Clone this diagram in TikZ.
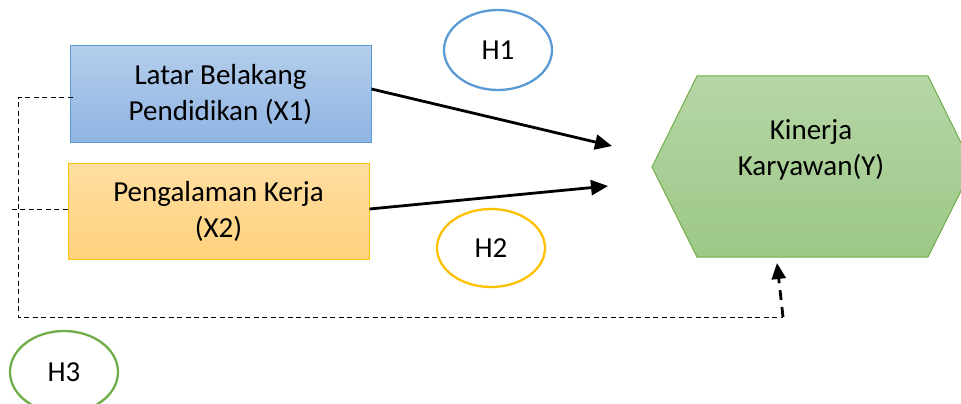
\documentclass[tikz,border=0pt]{standalone}
\usepackage{fontspec}
\setmainfont{Carlito}
\usetikzlibrary{arrows.meta,shapes.geometric}
\definecolor{bluebd}{HTML}{5B9BD5}
\definecolor{orangebd}{HTML}{FFC000}
\definecolor{greenbd}{HTML}{70AD47}
\begin{document}
\begin{tikzpicture}[x=1pt,y=-1pt,
  every node/.style={font=\fontsize{29}{36}\selectfont, align=center, inner sep=0pt},
  varbox/.style={minimum width=301pt, minimum height=96pt, line width=1pt},
  hypo/.style={ellipse, minimum width=108pt, minimum height=80pt, line width=2.3pt},
  mainarrow/.style={line width=2.8pt, -{Triangle[length=17pt,width=15pt]}},
  thindash/.style={line width=1pt, dash pattern=on 5pt off 3.5pt},
  thickdash/.style={line width=2.8pt, dash pattern=on 10pt off 7pt, -{Triangle[length=16pt,width=14pt]}}
]
\useasboundingbox (0,0) rectangle (961,404);
\clip (0,0) rectangle (961,404);
% hexagon
\shade[top color={rgb,255:red,181;green,214;blue,166}, bottom color={rgb,255:red,157;green,200;blue,135}, draw=greenbd, line width=1pt]
  (652,167) -- (697,76) -- (928,76) -- (973,167) -- (928,257) -- (697,257) -- cycle;
\node (Y) at (811,150) {Kinerja\\Karyawan(Y)};
\coordinate (y1) at (612,146);
\coordinate (y2) at (608,186);
\coordinate (y3) at (777,263);
% boxes
\node[varbox, draw=bluebd, top color={rgb,255:red,180;green,205;blue,235}, bottom color={rgb,255:red,143;green,180;blue,227}] (X1) at (220.5,94) {Latar Belakang\\Pendidikan (X1)};
\node[varbox, draw=orangebd, top color={rgb,255:red,255;green,222;blue,160}, bottom color={rgb,255:red,255;green,210;blue,125}] (X2) at (218.5,211) {Pengalaman Kerja\\(X2)};
% hypotheses
\node[hypo, draw=bluebd] (H1) at (498,50) {H1};
\node[hypo, draw=orangebd, minimum height=78pt] (H2) at (491,248) {H2};
\node[hypo, draw=greenbd, minimum height=82pt] (H3) at (64,372) {H3};
% arrows
\draw[mainarrow] ([yshift=5pt]X1.east) -- (y1);
\draw[mainarrow] ([yshift=2pt]X2.east) -- (y2);
% dashed route
\coordinate (a1) at (18,97);
\coordinate (a2) at (18,317);
\coordinate (a3) at (783,317);
\coordinate (b1) at (12,209);
\draw[thindash] ([xshift=3pt,yshift=-3pt]X1.west) -- (a1) -- (a2) -- (a3);
\draw[thindash] ([yshift=2pt]X2.west) -- (b1);
\draw[thickdash] (a3) -- (y3);
\end{tikzpicture}
\end{document}
